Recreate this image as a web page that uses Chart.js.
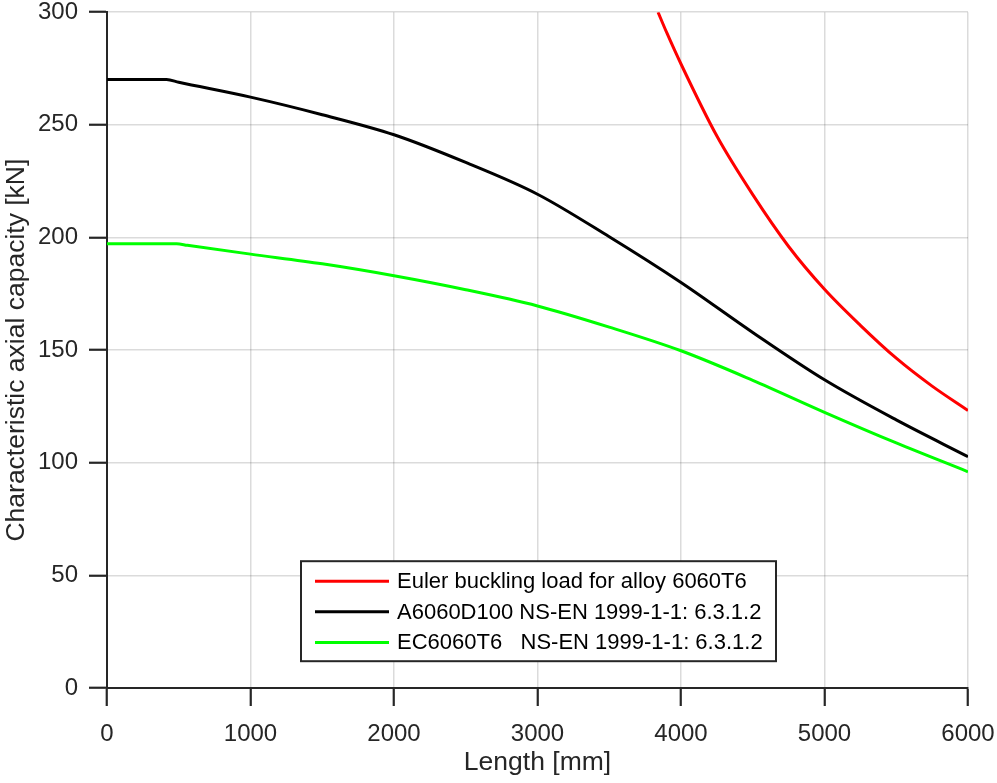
<!DOCTYPE html>
<html>
<head>
<meta charset="utf-8">
<script src="https://cdn.jsdelivr.net/npm/chart.js@4.4.1/dist/chart.umd.min.js"></script>
<style>
  body { margin: 0; background: #fff; }
  #c { display: block; }
</style>
</head>
<body>
<canvas id="c" width="997" height="783"></canvas>
<script>
// values
const eulerLength = [3840, 3900, 4000, 4250, 4500, 4750, 5000, 5250, 5500, 5750, 6000];
const eulerLoad   = [300, 291, 277, 245, 219, 196, 177, 161, 146.4, 134, 123.2];

const a6060Length = [0, 415, 500, 1000, 1500, 2000, 2500, 3000, 3500, 4000, 4500, 5000, 5500, 6000];
const a6060Load   = [270.1, 270.1, 268.9, 262.3, 254.5, 245.6, 233.3, 219.2, 200.3, 180, 157.8, 136.8, 119, 102.7];

const ec6060Length = [0, 485, 560, 1000, 1500, 2000, 2500, 3000, 3500, 4000, 4500, 5000, 5500, 6000];
const ec6060Load   = [197.2, 197.2, 196.5, 192.6, 188.3, 183, 176.8, 169.6, 160.2, 149.7, 136.6, 122.4, 108.8, 96];

const seriesNames = [
  'Euler buckling load for alloy 6060T6',
  'A6060D100 NS-EN 1999-1-1: 6.3.1.2',
  'EC6060T6   NS-EN 1999-1-1: 6.3.1.2'
];

function toPoints(xs, ys) {
  return xs.map((x, i) => ({ x: x, y: ys[i] }));
}

const FONT = '"Liberation Sans", Arial, Helvetica, sans-serif';
const INK = '#262626';

// legend drawn inside the plot, like the original
const boxLegend = {
  id: 'boxLegend',
  afterDatasetsDraw(chart) {
    const ctx = chart.ctx;
    const area = chart.chartArea;
    const left = area.left + 194, top = area.top + 549;
    const w = 475, h = 100;
    ctx.save();
    ctx.fillStyle = '#fff';
    ctx.fillRect(left, top, w, h);
    ctx.strokeStyle = INK;
    ctx.lineWidth = 2;
    ctx.strokeRect(left, top, w, h);
    ctx.font = '22px ' + FONT;
    ctx.textBaseline = 'middle';
    chart.data.datasets.forEach((ds, i) => {
      const y = top + 20 + i * 30.6;
      ctx.strokeStyle = ds.borderColor;
      ctx.lineWidth = 3;
      ctx.beginPath();
      ctx.moveTo(left + 14, y);
      ctx.lineTo(left + 88, y);
      ctx.stroke();
      ctx.fillStyle = '#000';
      ctx.fillText(ds.label, left + 96, y + 1);
    });
    ctx.restore();
  }
};

const plain = v => String(v);

new Chart(document.getElementById('c'), {
  type: 'line',
  data: {
    datasets: [
      { label: seriesNames[0], data: toPoints(eulerLength, eulerLoad), borderColor: '#ff0000', borderWidth: 3 },
      { label: seriesNames[1], data: toPoints(a6060Length, a6060Load), borderColor: '#000000', borderWidth: 3 },
      { label: seriesNames[2], data: toPoints(ec6060Length, ec6060Load), borderColor: '#00ff00', borderWidth: 3 }
    ]
  },
  options: {
    responsive: false,
    animation: false,
    layout: { padding: { top: 0, right: 29, left: 0, bottom: 0 } },
    elements: {
      point: { radius: 0 },
      line: { cubicInterpolationMode: 'monotone', fill: false }
    },
    plugins: {
      legend: { display: false },
      tooltip: { enabled: false }
    },
    scales: {
      x: {
        type: 'linear',
        min: 0, max: 6000,
        afterFit(s) { s.height = 95; },
        ticks: { stepSize: 1000, callback: plain, color: INK, font: { family: FONT, size: 24, lineHeight: 2.3 }, padding: 1, maxRotation: 0 },
        grid: { color: 'rgba(0,0,0,0.14)', lineWidth: 1.5, tickLength: 18, tickColor: INK, tickWidth: 2.2 },
        border: { color: INK, width: 2 },
        title: { display: true, text: 'Length [mm]', color: INK, font: { family: FONT, size: 26.5 }, padding: { top: 0, bottom: 4 } }
      },
      y: {
        min: 0, max: 300,
        afterFit(s) { s.width = 107; },
        ticks: { stepSize: 50, callback: plain, color: INK, font: { family: FONT, size: 24, lineHeight: 0.1 }, padding: 11 },
        grid: { color: 'rgba(0,0,0,0.14)', lineWidth: 1.5, tickLength: 18, tickColor: INK, tickWidth: 2.2 },
        border: { color: INK, width: 2 },
        title: { display: true, text: 'Characteristic axial capacity [kN]', color: INK, font: { family: FONT, size: 26.5 }, padding: { top: 1, bottom: 0 } }
      }
    }
  },
  plugins: [boxLegend]
});
</script>
</body>
</html>
